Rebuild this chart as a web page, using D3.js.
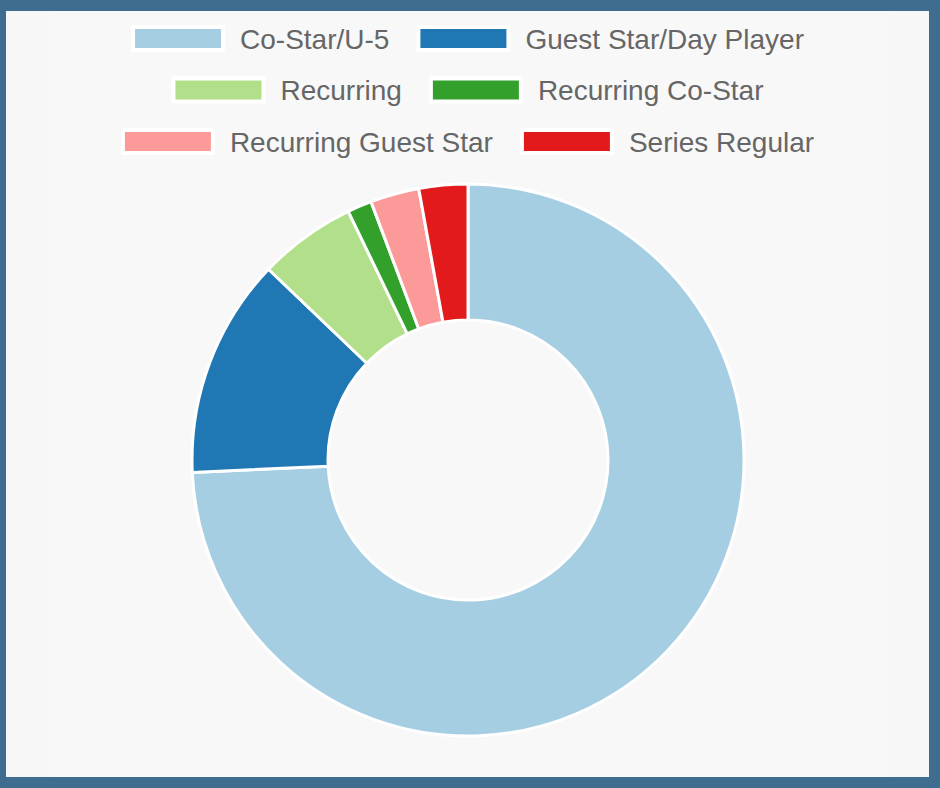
<!DOCTYPE html>
<html><head><meta charset="utf-8">
<script src="https://cdn.jsdelivr.net/npm/d3@7"></script>
<style>html,body{margin:0;padding:0;background:#3f6d90;}svg{display:block;}</style>
</head><body>
<svg id="chart" width="940" height="788"></svg>
<script>
const categories = ["Co-Star/U-5","Guest Star/Day Player","Recurring","Recurring Co-Star","Recurring Guest Star","Series Regular"];
const values = [52, 9, 4, 1, 2, 2];
const colors = ["#a6cee3","#1f78b4","#b2df8a","#33a02c","#fb9a99","#e31a1c"];

const svg = d3.select("#chart");
const W = 940, H = 788;
svg.append("rect").attr("x",0).attr("y",0).attr("width",W).attr("height",H).attr("fill","#3f6d90");
svg.append("rect").attr("x",6).attr("y",11).attr("width",923).attr("height",766).attr("fill","#f7f7f7");
svg.append("rect").attr("x",53).attr("y",11).attr("width",837).attr("height",766).attr("fill","#f8f8f8");

// Donut
const cx = 468, cy = 460, rOuter = 276, rInner = 140;
const pie = d3.pie().sort(null).value(d => d);
const arc = d3.arc().innerRadius(rInner).outerRadius(rOuter);
const g = svg.append("g").attr("transform", `translate(${cx},${cy})`);
g.selectAll("path").data(pie(values)).join("path")
  .attr("d", arc)
  .attr("fill", (d,i) => colors[i])
  .attr("stroke", "#fff")
  .attr("stroke-width", 3)
  .attr("stroke-linejoin", "round");

// Legend (Chart.js style, centered rows)
const fontSize = 28, boxW = 90, boxH = 23, textGap = 17, itemGap = 29, maxW = 880;
const rowCenters = [38.5, 90, 141.5];
const centerX = 468.5;
const measure = svg.append("text").attr("font-family","'Liberation Sans', Arial, Helvetica, sans-serif").attr("font-size",fontSize).attr("visibility","hidden");
const items = categories.map((c,i) => {
  measure.text(c);
  const tw = measure.node().getComputedTextLength();
  return {label:c, color:colors[i], tw, w: boxW + textGap + tw};
});
measure.remove();
const rows = [];
let cur = [], curW = 0;
items.forEach(it => {
  const add = (cur.length ? itemGap : 0) + it.w;
  if (cur.length && curW + add > maxW) { rows.push({items:cur, w:curW}); cur = [it]; curW = it.w; }
  else { cur.push(it); curW += add; }
});
if (cur.length) rows.push({items:cur, w:curW});

const leg = svg.append("g");
rows.forEach((row, ri) => {
  let x = centerX - row.w/2;
  const yc = rowCenters[ri] !== undefined ? rowCenters[ri] : rowCenters[0] + ri*51.5;
  row.items.forEach(it => {
    leg.append("rect").attr("x", x).attr("y", yc - boxH/2).attr("width", boxW).attr("height", boxH)
      .attr("fill", it.color).attr("stroke", "#fff").attr("stroke-width", 4);
    leg.append("text").attr("x", x + boxW + textGap).attr("y", yc + fontSize*0.36)
      .attr("font-family","'Liberation Sans', Arial, Helvetica, sans-serif").attr("font-size", fontSize)
      .attr("fill", "#666").text(it.label);
    x += it.w + itemGap;
  });
});
</script>
</body></html>
